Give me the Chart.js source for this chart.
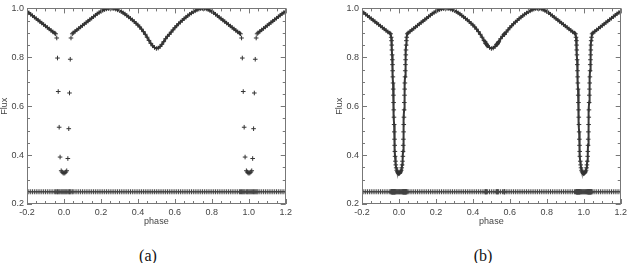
<!DOCTYPE html>
<html>
<head>
<meta charset="utf-8">
<script src="https://cdn.jsdelivr.net/npm/chart.js@4.4.0/dist/chart.umd.min.js"></script>
<style>
	body { margin: 0; width: 630px; height: 263px; background: #fff; position: relative; overflow: hidden; }
	canvas { position: absolute; top: 0; }
	#chartA { left: 0; }
	#chartB { left: 335px; }
	.caption { position: absolute; top: 247px; width: 40px; text-align: center; font-family: 'Liberation Serif', serif; font-size: 16px; color: #111; }
</style>
</head>
<body>
<canvas id="chartA" width="295" height="232"></canvas>
<canvas id="chartB" width="295" height="232"></canvas>
<div class="caption" style="left:128px">(a)</div>
<div class="caption" style="left:463px">(b)</div>
<script>
// axis ticks
const xTicks = [-0.2, 0, 0.2, 0.4, 0.6, 0.8, 1.0, 1.2];
const yTicks = [0.2, 0.4, 0.6, 0.8, 1.0];

// out-of-eclipse light curve (same in both panels)
const phaseOut = [
	-0.20, -0.19, -0.18, -0.17, -0.16, -0.15, -0.14, -0.13, -0.12, -0.11, -0.10, -0.09, -0.08, -0.07, -0.06, -0.05,
	0.05, 0.06, 0.07, 0.08, 0.09, 0.10, 0.11, 0.12, 0.13, 0.14, 0.15, 0.16, 0.17, 0.18, 0.19, 0.20, 0.21, 0.22, 0.23, 0.24, 0.25,
	0.26, 0.27, 0.28, 0.29, 0.30, 0.31, 0.32, 0.33, 0.34, 0.35, 0.36, 0.37, 0.38, 0.39, 0.40, 0.41, 0.42, 0.43, 0.44, 0.45, 0.46, 0.47, 0.48, 0.49, 0.50,
	0.51, 0.52, 0.53, 0.54, 0.55, 0.56, 0.57, 0.58, 0.59, 0.60, 0.61, 0.62, 0.63, 0.64, 0.65, 0.66, 0.67, 0.68, 0.69, 0.70, 0.71, 0.72, 0.73, 0.74, 0.75,
	0.76, 0.77, 0.78, 0.79, 0.80, 0.81, 0.82, 0.83, 0.84, 0.85, 0.86, 0.87, 0.88, 0.89, 0.90, 0.91, 0.92, 0.93, 0.94, 0.95,
	1.05, 1.06, 1.07, 1.08, 1.09, 1.10, 1.11, 1.12, 1.13, 1.14, 1.15, 1.16, 1.17, 1.18, 1.19, 1.20
];
const fluxOut = [
	0.987, 0.982, 0.976, 0.970, 0.964, 0.958, 0.952, 0.946, 0.940, 0.934, 0.928, 0.922, 0.916, 0.910, 0.904, 0.899,
	0.900, 0.906, 0.912, 0.918, 0.924, 0.930, 0.936, 0.942, 0.948, 0.954, 0.960, 0.966, 0.972, 0.978, 0.983, 0.988, 0.992, 0.995, 0.998, 0.999, 1.000,
	1.000, 0.999, 0.997, 0.994, 0.991, 0.987, 0.982, 0.977, 0.971, 0.965, 0.959, 0.953, 0.946, 0.939, 0.932, 0.924, 0.915, 0.905, 0.894, 0.882, 0.869, 0.857, 0.847, 0.840, 0.836,
	0.838, 0.844, 0.853, 0.864, 0.876, 0.886, 0.894, 0.903, 0.912, 0.921, 0.929, 0.937, 0.944, 0.951, 0.958, 0.964, 0.970, 0.976, 0.981, 0.986, 0.990, 0.994, 0.997, 0.999, 1.000,
	1.000, 0.998, 0.995, 0.991, 0.987, 0.982, 0.976, 0.970, 0.964, 0.958, 0.952, 0.946, 0.940, 0.934, 0.928, 0.922, 0.916, 0.910, 0.904, 0.899,
	0.900, 0.906, 0.912, 0.918, 0.924, 0.930, 0.936, 0.942, 0.948, 0.954, 0.960, 0.966, 0.972, 0.978, 0.983, 0.988
];

// panel (a): sparse points through the primary eclipses
const eclPhaseA0 = [-0.045, -0.039, -0.035, -0.031, -0.026, -0.021, -0.015, -0.010, -0.005, 0.000, 0.005, 0.010, 0.015, 0.021, 0.026, 0.030, 0.034, 0.038, 0.045];
const eclPhaseA1 = [0.955, 0.961, 0.965, 0.970, 0.975, 0.980, 0.987, 0.992, 0.996, 1.001, 1.006, 1.011, 1.016, 1.021, 1.026, 1.030, 1.035, 1.040, 1.045];
const eclFluxA = [0.896, 0.879, 0.797, 0.660, 0.514, 0.392, 0.336, 0.331, 0.327, 0.326, 0.327, 0.331, 0.336, 0.386, 0.508, 0.654, 0.792, 0.879, 0.896];

// panel (b): densely sampled primary eclipses
const eclPhaseB0 = [
	-0.045, -0.042, -0.040, -0.039, -0.038, -0.037, -0.036, -0.035, -0.034, -0.033, -0.032, -0.031, -0.030, -0.029, -0.028,
	-0.027, -0.026, -0.025, -0.024, -0.023, -0.022, -0.021, -0.019, -0.017, -0.015, -0.012, -0.009, -0.006, -0.003, 0.000,
	0.003, 0.006, 0.009, 0.012, 0.015, 0.017, 0.019, 0.021, 0.022, 0.023, 0.024, 0.025, 0.026, 0.027, 0.028,
	0.029, 0.030, 0.031, 0.032, 0.033, 0.034, 0.035, 0.036, 0.037, 0.038, 0.039, 0.040, 0.042, 0.045
];
const eclPhaseB1 = [
	0.955, 0.958, 0.960, 0.961, 0.962, 0.963, 0.964, 0.965, 0.966, 0.967, 0.968, 0.969, 0.970, 0.971, 0.972,
	0.973, 0.974, 0.975, 0.976, 0.977, 0.978, 0.979, 0.981, 0.983, 0.985, 0.988, 0.991, 0.994, 0.997, 1.000,
	1.003, 1.006, 1.009, 1.012, 1.015, 1.017, 1.019, 1.021, 1.022, 1.023, 1.024, 1.025, 1.026, 1.027, 1.028,
	1.029, 1.030, 1.031, 1.032, 1.033, 1.034, 1.035, 1.036, 1.037, 1.038, 1.039, 1.040, 1.042, 1.045
];
const eclFluxB = [
	0.896, 0.882, 0.868, 0.850, 0.830, 0.810, 0.790, 0.770, 0.745, 0.720, 0.695, 0.670, 0.645, 0.615, 0.585,
	0.555, 0.525, 0.495, 0.465, 0.440, 0.415, 0.395, 0.375, 0.360, 0.348, 0.338, 0.332, 0.328, 0.326, 0.325,
	0.326, 0.328, 0.332, 0.338, 0.348, 0.360, 0.375, 0.395, 0.415, 0.440, 0.465, 0.495, 0.525, 0.555, 0.585,
	0.615, 0.645, 0.670, 0.695, 0.720, 0.745, 0.770, 0.790, 0.810, 0.830, 0.850, 0.868, 0.882, 0.896
];
// panel (b): extra points around the secondary eclipse
const extraPhaseB = [0.466, 0.469, 0.472, 0.475, 0.528, 0.531, 0.534, 0.537, 0.568, 0.570, 0.572];
const extraFluxB = [0.864, 0.858, 0.855, 0.852, 0.851, 0.854, 0.857, 0.861, 0.893, 0.894, 0.896];

// residuals are plotted shifted to this level
const residLevel = 0.25;

const toPoints = (xs, ys) => xs.map((x, i) => ({ x: x, y: ys[i] }));
const byPhase = (a, b) => a.x - b.x;

// put a break wherever the sampling has a hole, so the trace is not bridged
const withBreaks = (pts) => {
	const out = [];
	pts.forEach((p, i) => {
		if (i > 0 && p.x - pts[i - 1].x > 0.02) out.push({ x: (p.x + pts[i - 1].x) / 2, y: null });
		out.push(p);
	});
	return out;
};

const outA = toPoints(phaseOut, fluxOut);
const eclA = [].concat(toPoints(eclPhaseA0, eclFluxA), toPoints(eclPhaseA1, eclFluxA));
const curveB = [].concat(
	toPoints(phaseOut, fluxOut),
	toPoints(eclPhaseB0, eclFluxB),
	toPoints(eclPhaseB1, eclFluxB),
	toPoints(extraPhaseB, extraFluxB)
).sort(byPhase);

const residA = outA.concat(eclA).map((p) => ({ x: p.x, y: residLevel }));
const residB = curveB.map((p) => ({ x: p.x, y: residLevel }));

// frame and inward tick marks on all four sides
const frameTicks = {
	id: 'frameTicks',
	afterDatasetsDraw(chart) {
		const { ctx, chartArea: a, scales } = chart;
		const x = scales.x;
		const y = scales.y;
		ctx.save();
		ctx.strokeStyle = '#777';
		ctx.lineWidth = 1;
		ctx.strokeRect(Math.round(a.left) + 0.5, Math.round(a.top) + 0.5, Math.round(a.width) - 1, Math.round(a.height) - 1);
		ctx.beginPath();
		for (let i = 0; i < xTicks.length; i++) {
			for (let k = 0; k < 4; k++) {
				const v = xTicks[i] + k * 0.05;
				if (v > 1.2 + 1e-9) break;
				const len = k === 0 ? 5 : 3;
				const px = Math.round(x.getPixelForValue(v)) + 0.5;
				ctx.moveTo(px, a.bottom);
				ctx.lineTo(px, a.bottom - len);
				ctx.moveTo(px, a.top);
				ctx.lineTo(px, a.top + len);
			}
		}
		for (let i = 0; i < yTicks.length; i++) {
			for (let k = 0; k < 4; k++) {
				const v = yTicks[i] + k * 0.05;
				if (v > 1.0 + 1e-9) break;
				const len = k === 0 ? 5 : 3;
				const py = Math.round(y.getPixelForValue(v)) + 0.5;
				ctx.moveTo(a.left, py);
				ctx.lineTo(a.left + len, py);
				ctx.moveTo(a.right, py);
				ctx.lineTo(a.right - len, py);
			}
		}
		ctx.stroke();
		ctx.restore();
	},
};

const axisFont = { family: 'Liberation Sans', size: 9 };

const traceSet = (data) => ({
	data: data,
	showLine: true,
	spanGaps: false,
	borderColor: '#3a3a3a',
	borderWidth: 2,
	pointStyle: 'cross',
	pointRadius: 2.3,
	pointBorderWidth: 1,
	pointBorderColor: '#333',
});
const crossSet = (data, color, r) => ({
	data: data,
	pointStyle: 'cross',
	pointRadius: r,
	borderColor: color,
	borderWidth: 1,
});

const createChart = (id, datasets, padRight) => {
	const canvas = document.getElementById(id);
	return new Chart(canvas, {
		type: 'scatter',
		data: { datasets: datasets },
		options: {
			responsive: false,
			animation: false,
			layout: { padding: { top: 3, right: padRight, bottom: 0, left: 0 } },
			plugins: { legend: { display: false }, tooltip: { enabled: false } },
			scales: {
				x: {
					type: 'linear',
					min: -0.2,
					max: 1.2,
					grid: { display: false, drawTicks: false },
					border: { display: false },
					afterBuildTicks: (s) => { s.ticks = xTicks.map((v) => ({ value: v })); },
					afterFit: (s) => { s.height = 28; },
					ticks: { padding: 3, color: '#444', font: axisFont, maxRotation: 0, autoSkip: false, callback: (v) => v.toFixed(1) },
					title: { display: true, text: 'phase', color: '#444', font: axisFont, padding: { top: 0, bottom: 5 } },
				},
				y: {
					type: 'linear',
					min: 0.2,
					max: 1.0,
					grid: { display: false, drawTicks: false },
					border: { display: false },
					afterBuildTicks: (s) => { s.ticks = yTicks.map((v) => ({ value: v })); },
					afterFit: (s) => { s.width = 27; },
					ticks: { padding: 3, color: '#444', font: axisFont, autoSkip: false, callback: (v) => v.toFixed(1) },
					title: { display: true, text: 'Flux', color: '#444', font: { family: 'Liberation Sans', size: 9, lineHeight: 0.9 }, padding: 0 },
				},
			},
		},
		plugins: [frameTicks],
	});
};

createChart('chartA', [
	crossSet(residA, '#444', 2.5),
	traceSet(withBreaks(outA)),
	crossSet(eclA, '#333', 2.3),
], 6);
createChart('chartB', [
	crossSet(residB, '#444', 2.5),
	traceSet(curveB),
], 5);
</script>
</body>
</html>
